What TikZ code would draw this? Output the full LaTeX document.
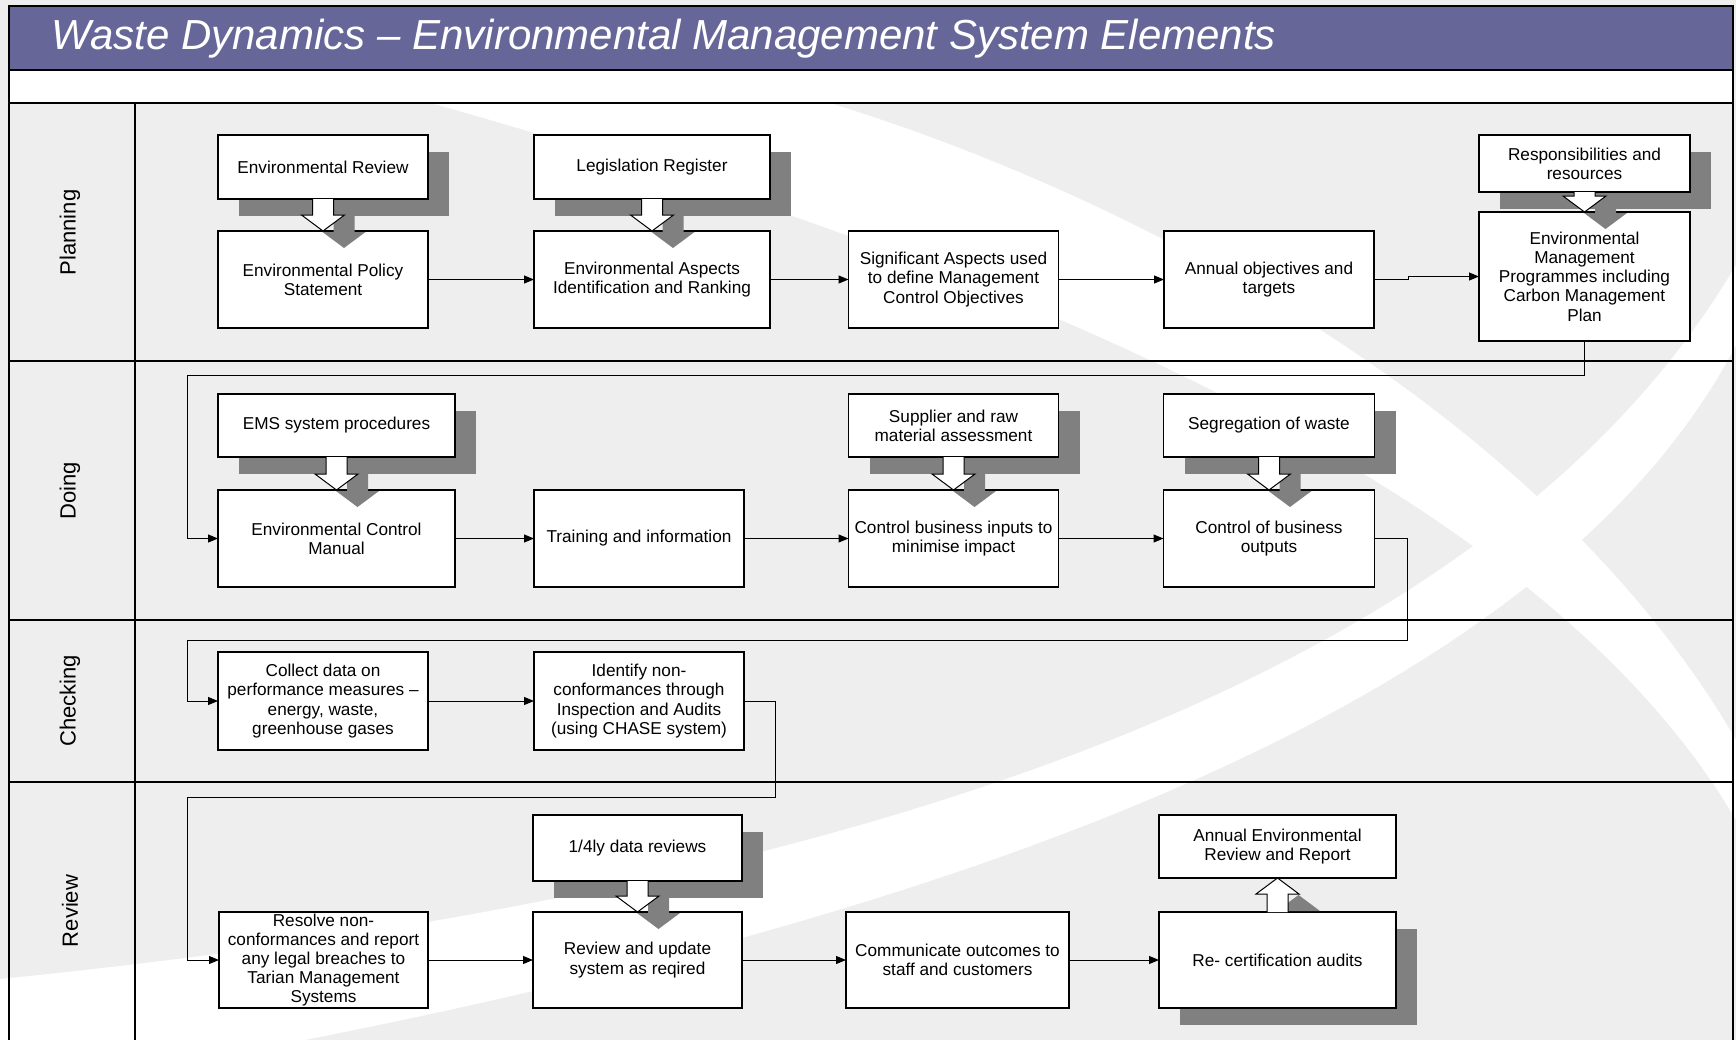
\documentclass[tikz,border=0pt]{standalone}
\usepackage{fontspec}
\setmainfont{Liberation Sans}
\usetikzlibrary{arrows.meta,calc,shadows}
\definecolor{lanegray}{HTML}{EEEEEE}
\definecolor{titleblue}{HTML}{666699}
\definecolor{shadegray}{HTML}{808080}
\tikzset{
  box/.style={draw=black, line width=0.6pt, fill=white, align=center,
    inner xsep=2pt, inner ysep=0pt, outer sep=0pt, font=\fontsize{8.6}{9.6}\selectfont},
  boxsize/.style 2 args={minimum width=#1*0.5pt, minimum height=#2*0.5pt},
  shadowed/.style={drop shadow={shadow xshift=10.5pt, shadow yshift=-8.5pt,
    fill=shadegray, opacity=1}},
  flow/.style={-{Triangle[length=5pt,width=4pt]}, line width=0.5pt},
  frame/.style={line width=0.6pt},
  lane/.style={rotate=90, font=\fontsize{11}{13}\selectfont}
}
% white block arrow with its shadow, from the box above to the box below
\newcommand{\feeddown}[2]{%
  \fill[shadegray] let \p1=(#1.south), \p2=(#2.north) in
    (\x1+5.25pt,\y1-8.5pt) -- (\x1+5.25pt,\y2-0.5pt) -- (\x1-0.25pt,\y2-0.5pt)
    -- (\x1+10.5pt,\y2-8.5pt) -- (\x1+21.25pt,\y2-0.5pt) -- (\x1+15.75pt,\y2-0.5pt)
    -- (\x1+15.75pt,\y1-8.5pt) -- cycle;
  \filldraw[fill=white, draw=black, line width=0.5pt] let \p1=(#1.south), \p2=(#2.north) in
    (\x1-5.25pt,\y1) -- (\x1-5.25pt,\y2+8pt) -- (\x1-10.75pt,\y2+8pt) -- (\x1,\y2)
    -- (\x1+10.75pt,\y2+8pt) -- (\x1+5.25pt,\y2+8pt) -- (\x1+5.25pt,\y1);
}
% same, pointing up
\newcommand{\feedup}[2]{%
  \fill[shadegray] let \p1=(#1.north), \p2=(#2.south) in
    (\x1-0.25pt,\y2-16.5pt) -- (\x1+10.5pt,\y2-8.5pt) -- (\x1+21.25pt,\y2-16.5pt) -- cycle;
  \filldraw[fill=white, draw=black, line width=0.5pt] let \p1=(#1.north), \p2=(#2.south) in
    (\x1-5.25pt,\y1) -- (\x1-5.25pt,\y2-8pt) -- (\x1-10.75pt,\y2-8pt) -- (\x1,\y2)
    -- (\x1+10.75pt,\y2-8pt) -- (\x1+5.25pt,\y2-8pt) -- (\x1+5.25pt,\y1);
}
\begin{document}
\begin{tikzpicture}[x=0.5pt, y=-0.5pt]
  \useasboundingbox (0,0) rectangle (1736,1040);
  % background and swooshes
  \fill[lanegray] (0,0) rectangle (1736,1040);
  \fill[white] (820,100) .. controls (1150,200) and (1550,420) .. (1736,740)
    -- (1736,820) .. controls (1560,520) and (1100,290) .. (420,100) -- cycle;
  \fill[white] (-10,980) .. controls (800,900) and (1480,700) .. (1736,265)
    -- (1736,345) .. controls (1530,740) and (850,940) .. (200,1060) -- (-10,1060) -- cycle;
  % frame
  \fill[titleblue] (9,6) rectangle (1733,70);
  \fill[white] (9,70) rectangle (1733,103);
  \draw[frame] (9,1040) -- (9,6) -- (1733,6) -- (1733,1040);
  \foreach \y in {70,103,361,620,782}
    \draw[frame] (9,\y) -- (1733,\y);
  \draw[frame] (135,103) -- (135,1040);
  \node[anchor=base west, inner sep=0pt, text=white, font=\fontsize{21}{25}\selectfont\itshape] (title) at (51,49)
    {Waste Dynamics – Environmental Management System Elements};
  \node[lane] (planning) at (70,232.5) {Planning};
  \node[lane] (doing) at (70,490.5) {Doing};
  \node[lane] (checking) at (70,701) {Checking};
  \node[lane] (review) at (70,911) {Review};

  % Planning
  \node[box, boxsize={210}{64}, shadowed] (envrev) at (323,167) {Environmental Review};
  \node[box, boxsize={210}{97}] (envpol) at (323,279.5) {Environmental Policy\\Statement};
  \node[box, boxsize={236}{64}, shadowed] (legreg) at (652,167) {Legislation Register};
  \node[box, boxsize={236}{97}] (envasp) at (652,279.5) {Environmental Aspects\\Identification and Ranking};
  \node[box, boxsize={210}{97}] (sigasp) at (953.5,279.5) {Significant Aspects used\\to define Management\\Control Objectives};
  \node[box, boxsize={210}{97}] (annual) at (1269,279.5) {Annual objectives and\\targets};
  \node[box, boxsize={211}{57}, shadowed] (respons) at (1584.5,163.5) {Responsibilities and\\resources};
  \node[box, boxsize={211}{129}] (envmgmt) at (1584.5,276.5) {Environmental\\Management\\Programmes including\\Carbon Management\\Plan};

  % Doing
  \node[box, boxsize={237}{63}, shadowed] (ems) at (336.5,425.5) {EMS system procedures};
  \node[box, boxsize={237}{97}] (envctl) at (336.5,538.5) {Environmental Control\\Manual};
  \node[box, boxsize={210}{97}] (training) at (639,538.5) {Training and information};
  \node[box, boxsize={210}{63}, shadowed] (supplier) at (953.5,425.5) {Supplier and raw\\material assessment};
  \node[box, boxsize={210}{97}] (ctlin) at (953.5,538.5) {Control business inputs to\\minimise impact};
  \node[box, boxsize={211}{63}, shadowed] (segreg) at (1269,425.5) {Segregation of waste};
  \node[box, boxsize={211}{97}] (ctlout) at (1269,538.5) {Control of business\\outputs};

  % Checking
  \node[box, boxsize={210}{98}] (collect) at (323,701) {Collect data on\\performance measures –\\energy, waste,\\greenhouse gases};
  \node[box, boxsize={210}{98}] (identify) at (639,701) {Identify non-\\conformances through\\Inspection and Audits\\(using CHASE system)};

  % Review
  \node[box, boxsize={209}{96}] (resolve) at (323.5,960) {Resolve non-\\conformances and report\\any legal breaches to\\Tarian Management\\Systems};
  \node[box, boxsize={209}{66}, shadowed] (quarterly) at (637.5,848) {1/4ly data reviews};
  \node[box, boxsize={209}{96}] (revupd) at (637.5,960) {Review and update\\system as reqired};
  \node[box, boxsize={223}{96}] (communicate) at (957.5,960) {Communicate outcomes to\\staff and customers};
  \node[box, boxsize={237}{96}, shadowed] (recert) at (1277.5,960) {Re- certification audits};
  \node[box, boxsize={237}{63}] (annrev) at (1277.5,846.5) {Annual Environmental\\Review and Report};

  % block arrows
  \feeddown{envrev}{envpol}
  \feeddown{legreg}{envasp}
  \feeddown{respons}{envmgmt}
  \feeddown{ems}{envctl}
  \feeddown{supplier}{ctlin}
  \feeddown{segreg}{ctlout}
  \feeddown{quarterly}{revupd}
  \feedup{recert}{annrev}

  % flow
  \coordinate (bend1) at (187,375);
  \coordinate (bend2) at (1407,640);
  \coordinate (bend3) at (187,640);
  \coordinate (bend4) at (775,797);
  \coordinate (bend5) at (187,797);
  \draw[flow] (envpol) -- (envasp);
  \draw[flow] (envasp) -- (sigasp);
  \draw[flow] (sigasp) -- (annual);
  \draw[flow] (annual.east) -- ++(34,0) |- (envmgmt.west);
  \draw[flow] (envmgmt.south) |- (bend1) |- (envctl.west);
  \draw[flow] (envctl) -- (training);
  \draw[flow] (training) -- (ctlin);
  \draw[flow] (ctlin) -- (ctlout);
  \draw[flow] (ctlout.east) -| (bend2) -- (bend3) |- (collect.west);
  \draw[flow] (collect) -- (identify);
  \draw[flow] (identify.east) -| (bend4) -- (bend5) |- (resolve.west);
  \draw[flow] (resolve) -- (revupd);
  \draw[flow] (revupd) -- (communicate);
  \draw[flow] (communicate) -- (recert);
\end{tikzpicture}
\end{document}
